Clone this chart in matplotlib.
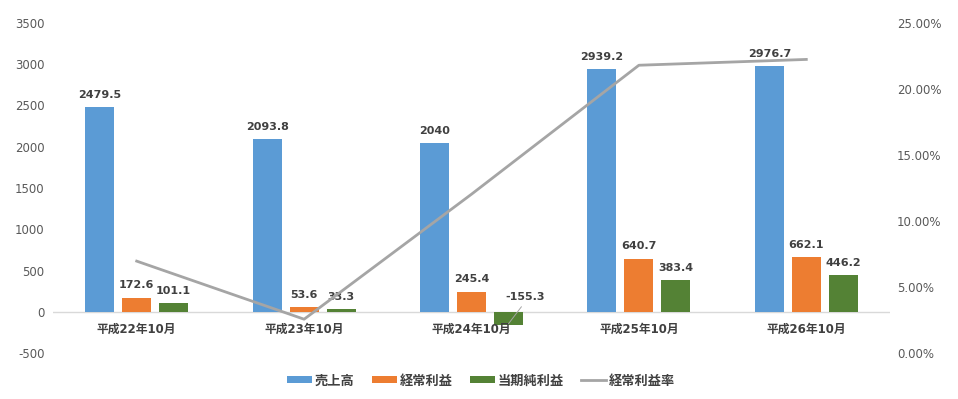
import numpy as np
import matplotlib.pyplot as plt
from matplotlib.ticker import FuncFormatter

plt.rcParams['font.family'] = ['DejaVu Sans', 'Noto Sans CJK JP']
plt.rcParams['axes.unicode_minus'] = False

categories = ["平成22年10月", "平成23年10月", "平成24年10月", "平成25年10月", "平成26年10月"]
sales = [2479.5, 2093.8, 2040, 2939.2, 2976.7]
ordinary = [172.6, 53.6, 245.4, 640.7, 662.1]
net = [101.1, 33.3, -155.3, 383.4, 446.2]
margin = [6.96, 2.56, 12.03, 21.80, 22.24]  # 経常利益率 (%)

names = ["売上高", "経常利益", "当期純利益", "経常利益率"]
colors = ["#5b9bd5", "#ed7d31", "#548235", "#a5a5a5"]
text_col = "#404040"
tick_col = "#595959"

fig = plt.figure(figsize=(9.58, 3.99), dpi=100)
ax = fig.add_axes([53 / 958, 1 - 353 / 399, (890 - 53) / 958, 330 / 399])
ax2 = ax.twinx()

x = np.arange(len(categories))
w = 0.173
off = 0.221
series = [sales, ordinary, net]
handles = []
for i, (vals, c) in enumerate(zip(series, colors[:3])):
    pos = x + (i - 1) * off
    b = ax.bar(pos, vals, w, color=c, label=names[i], zorder=2)
    handles.append(b)
    for p, v in zip(pos, vals):
        lbl = f"{v:g}"
        if v >= 0:
            ax.text(p, v + 90, lbl, ha="center", va="bottom", fontsize=8,
                    fontweight="bold", color=text_col)
        else:
            # negative value: label above the zero line with a leader line
            ax.annotate(lbl, xy=(p, v + 10), xytext=(p + 0.1, 182),
                        ha="center", va="center", fontsize=8,
                        fontweight="bold", color=text_col, zorder=4,
                        arrowprops=dict(arrowstyle="-", color="#a5a5a5",
                                        lw=0.7, shrinkA=2, shrinkB=0,
                                        relpos=(0.5, 0)))

ax.axhline(0, color="#d9d9d9", lw=1, zorder=1)
ax.set_xlim(-0.5, len(categories) - 0.5)
ax.set_ylim(-500, 3500)
ax.set_yticks(np.arange(-500, 3501, 500))
ax.set_xticks([])
for xi, c in zip(x, categories):
    ax.text(xi, -215, c, ha="center", va="center", fontsize=8.5,
            fontweight="bold", color=text_col)

ln, = ax2.plot(x, margin, color=colors[3], lw=2, label=names[3], zorder=3)
handles.append(ln)
ax2.set_ylim(0, 25)
ax2.set_yticks(np.arange(0, 25.01, 5))
ax2.yaxis.set_major_formatter(FuncFormatter(lambda v, _: f"{v:.2f}%"))

for a in (ax, ax2):
    for s in a.spines.values():
        s.set_visible(False)
    a.tick_params(length=0, labelsize=8.5, labelcolor=tick_col)
ax.tick_params(axis="y", pad=6)
ax2.tick_params(axis="y", pad=5)

leg = fig.legend(handles, names, loc="center",
                 bbox_to_anchor=(481 / 958, 1 - 381 / 399),
                 ncol=4, frameon=False, handlelength=1.9,
                 handleheight=0.4, columnspacing=1.3, handletextpad=0.2,
                 prop={"weight": "bold", "size": 9.5})
for t in leg.get_texts():
    t.set_color(text_col)

fig.savefig("out.png", dpi=100)
